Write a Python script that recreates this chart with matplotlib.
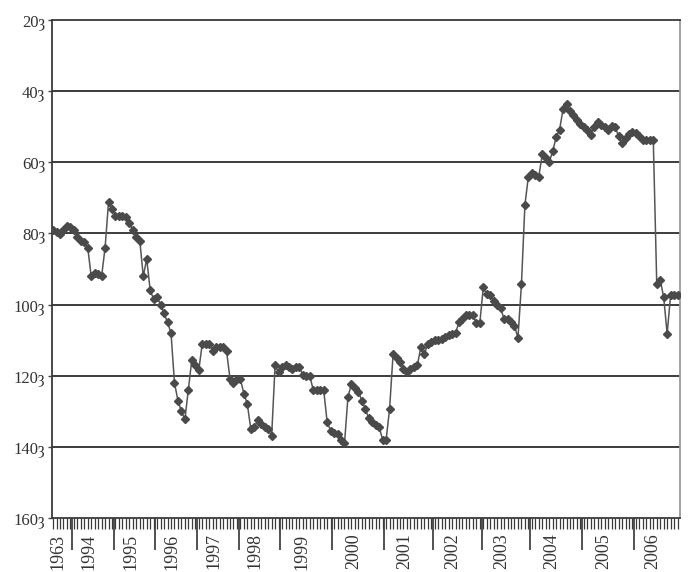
import numpy as np
import matplotlib.pyplot as plt
from matplotlib.transforms import blended_transform_factory

rank = [
    78.9, 79.5, 80.2, 79.0, 77.9, 78.3, 78.9, 81.0, 82.0, 82.5,
    84.0, 92.0, 91.0, 91.5, 92.0, 84.0, 71.1, 73.0, 75.0, 75.0,
    75.0, 75.5, 77.0, 79.0, 81.0, 82.0, 92.0, 87.2, 96.0, 98.5,
    98.0, 100.0, 102.5, 105.0, 108.0, 122.0, 127.0, 130.0, 132.3, 124.0,
    115.5, 117.0, 118.5, 111.0, 111.0, 111.0, 113.0, 112.0, 112.0, 112.0,
    113.0, 120.8, 122.0, 121.0, 121.0, 125.0, 128.0, 135.0, 134.5, 132.5,
    133.5, 134.5, 135.0, 137.0, 117.1, 119.0, 117.5, 117.1, 117.5, 118.0,
    117.5, 117.5, 119.9, 120.0, 120.1, 124.0, 124.0, 124.0, 124.0, 133.0,
    135.5, 136.0, 136.5, 138.0, 139.0, 126.0, 122.3, 123.5, 124.5, 127.0,
    129.3, 132.0,
    133.0, 133.8, 134.5, 138.0, 138.0, 129.3, 114.0, 115.0, 116.2, 118.0,
    119.0, 118.0, 117.5, 117.0, 112.0, 114.0, 111.0, 110.5, 110.0, 110.0,
    109.6, 109.0, 108.5, 108.2, 108.0, 105.0, 104.0, 103.0, 103.0, 103.0,
    105.2, 105.2, 95.2, 97.0, 97.2, 99.0, 100.0, 101.1, 104.0, 104.0,
    105.0, 106.1, 109.3, 94.3, 72.0, 64.0, 63.0, 63.5, 64.0, 57.8,
    58.8, 60.0, 56.9, 53.0, 50.8, 45.0, 43.6, 45.5, 46.6, 48.0,
    49.1, 50.1, 51.0, 52.2, 50.0, 48.7, 49.5, 50.0, 50.8, 49.9,
    50.0, 52.7, 54.7, 53.1, 52.0, 51.5, 51.7, 52.5, 53.8, 53.8,
    53.8, 53.8, 94.2, 93.0, 98.0, 108.2, 97.2, 97.2, 97.2,
]
year_labels = ['1963', '1994', '1995', '1996', '1997', '1998', '1999',
               '2000', '2001', '2002', '2003', '2004', '2005', '2006']
year_counts = [6, 12, 12, 12, 12, 12, 15, 15, 14, 14, 14, 15, 15, 13]
y_ticks = [20, 40, 60, 80, 100, 120, 140, 160]

plt.rcParams['font.family'] = ['Liberation Serif', 'DejaVu Serif']

fig = plt.figure(figsize=(6.92, 5.72), dpi=100)
ax = fig.add_axes([52 / 692, 1 - 518 / 572, 628 / 692, 498 / 572])

x = np.arange(len(rank))
ax.plot(x, rank, color='#555555', lw=1.1, marker='D', ms=4.5,
        mfc='#4a4a4a', mec='#4a4a4a', zorder=3)

ax.set_ylim(160, 20)
ax.set_xlim(-0.3, len(rank) - 0.3)

# y axis
ax.set_yticks(y_ticks)
ax.set_yticklabels([f'{v}ȝ' for v in y_ticks], fontsize=12, color='#333333')
ax.tick_params(axis='y', length=3, width=1, color='#444444', pad=2)
for v in y_ticks[1:-1]:
    ax.axhline(v, color='#3c3c3c', lw=1.4, zorder=1)

# x axis: year dividers, month ticks, year labels
bounds = np.cumsum(year_counts)[:-1] - 0.5
ax.set_xticks(bounds)
ax.set_xticklabels([])
ax.tick_params(axis='x', which='major', length=23, width=1.2, color='#333333')
ax.set_xticks(x, minor=True)
ax.tick_params(axis='x', which='minor', length=8, width=0.9, color='#3a3a3a')

starts = np.concatenate([[0], np.cumsum(year_counts)[:-1]])
centers = starts + (np.array(year_counts) - 1) / 2
trans = blended_transform_factory(ax.transData, ax.transAxes)
for c, lab in zip(centers, year_labels):
    ax.text(c - 1.2, -0.031, lab, transform=trans, rotation=90,
            ha='center', va='top', fontsize=13, color='#333333')

for side in ['left', 'top', 'bottom']:
    ax.spines[side].set_color('#3a3a3a')
    ax.spines[side].set_linewidth(1.3)
ax.spines['right'].set_color('#9a9a9a')
ax.spines['right'].set_linewidth(1.3)

fig.savefig('out.png', dpi=100)
